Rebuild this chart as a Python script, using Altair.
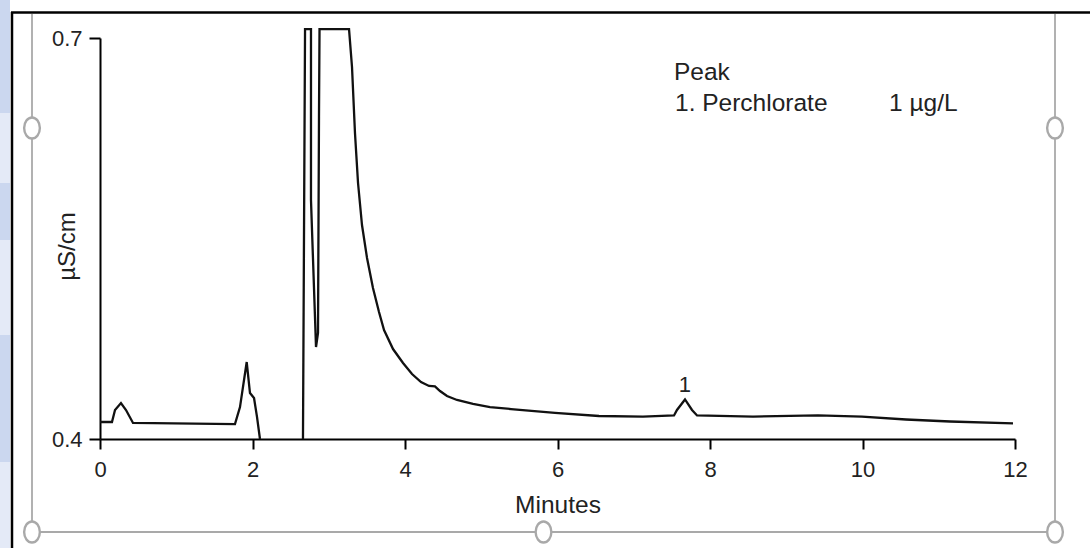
import altair as alt
import pandas as pd

# ---- data (minutes, µS/cm) ----
# trace before the off-scale-low gap
minutes_a = [0.0, 0.157, 0.197, 0.275, 0.341, 0.433, 1.770, 1.836, 1.924, 1.967, 2.020, 2.059, 2.098]
values_a = [0.4127, 0.4127, 0.4217, 0.4269, 0.4217, 0.4120, 0.4112, 0.4239, 0.4576, 0.4344, 0.4307, 0.4165, 0.4000]

# trace after the gap (water dip / off-scale peak, tail, perchlorate peak)
minutes_b = [2.662, 2.689, 2.767, 2.767, 2.833, 2.859, 2.872, 2.879,
             3.266, 3.305, 3.344, 3.384, 3.436, 3.502, 3.580, 3.659, 3.725, 3.843,
             3.974, 4.092, 4.210, 4.315, 4.393, 4.459, 4.551, 4.682, 4.892, 5.115,
             5.390, 5.967, 6.544, 7.121, 7.528, 7.567, 7.672, 7.764, 7.830, 8.564,
             9.416, 9.993, 10.570, 11.148, 11.974]
values_b = [0.4000, 0.7067, 0.7067, 0.5788, 0.4688, 0.4793, 0.6409, 0.7067,
            0.7067, 0.6783, 0.6289, 0.5915, 0.5601, 0.5354, 0.5130, 0.4950, 0.4815, 0.4673,
            0.4569, 0.4486, 0.4426, 0.4397, 0.4393, 0.4359, 0.4322, 0.4292, 0.4262, 0.4239,
            0.4224, 0.4195, 0.4172, 0.4167, 0.4176, 0.4217, 0.4296, 0.4217, 0.4176, 0.4168,
            0.4177, 0.4168, 0.4146, 0.4131, 0.4117]

peak_times = [7.672]
peak_values = [0.4296]
peak_labels = ["1"]

x_ticks = [0, 2, 4, 6, 8, 10, 12]
y_ticks = [0.4, 0.7]

legend_lines = ["Peak", "1. Perchlorate", "1 µg/L"]

# ---- tables ----
trace = pd.DataFrame({
    "t": minutes_a + minutes_b,
    "v": values_a + values_b,
    "seg": ["a"] * len(minutes_a) + ["b"] * len(minutes_b),
    "idx": list(range(len(minutes_a) + len(minutes_b))),
})
peaks = pd.DataFrame({"t": peak_times, "v": peak_values, "label": peak_labels})
one = pd.DataFrame({"k": [0]})

FONT = "Liberation Sans"
TXT = "#222222"
GREY = "#a9a9a9"

xscale = alt.Scale(domain=[0, 12], nice=False)
yscale = alt.Scale(domain=[0.4, 0.7], nice=False, zero=False)

line = alt.Chart(trace).mark_line(color="#111111", strokeWidth=2.3, clip=False).encode(
    x=alt.X("t:Q", scale=xscale, axis=alt.Axis(
        values=x_ticks, format="d", title="Minutes", grid=False,
        titleFont=FONT, titleFontSize=24.5, titleFontWeight="normal", titleColor=TXT,
        titleBaseline="alphabetic", titleY=73,
        labelFont=FONT, labelFontSize=22, labelColor=TXT, labelPadding=10,
        labelFlush=False, labelOverlap=False,
        tickSize=10, tickWidth=2, tickColor="black",
        domainColor="black", domainWidth=2)),
    y=alt.Y("v:Q", scale=yscale, axis=alt.Axis(
        values=y_ticks, format=".1f", title="µS/cm", grid=False,
        titleFont=FONT, titleFontSize=24, titleFontWeight="normal", titleColor=TXT,
        titleAngle=270, titleX=-26, titleY=208, titleBaseline="alphabetic", titleAlign="center",
        labelFont=FONT, labelFontSize=22, labelColor=TXT, labelPadding=7,
        tickSize=11, tickWidth=2, tickColor="black",
        domainColor="black", domainWidth=2)),
    detail="seg:N",
    order="idx:Q",
)

peak_text = alt.Chart(peaks).mark_text(
    font=FONT, fontSize=22, color=TXT, baseline="alphabetic", align="center", dy=-7
).encode(x=alt.X("t:Q", scale=xscale), y=alt.Y("v:Q", scale=yscale), text="label:N")

layers = [line, peak_text]

# legend text (top right)
legend_pos = [(574, 42), (575, 73), (789, 73)]
for txt, (px, py) in zip(legend_lines, legend_pos):
    layers.append(alt.Chart(one).mark_text(
        font=FONT, fontSize=24.5, color=TXT, align="left", baseline="alphabetic", text=txt
    ).encode(x=alt.value(px), y=alt.value(py)))

# ---- screenshot decorations (page strip, frame, selection box) ----
bands = [(-38, 75, "#cbd7ef"), (75, 145, "#e4eaf7"), (145, 202, "#cbd7ef"),
         (202, 297, "#e4eaf7"), (297, 424, "#cbd7ef"), (424, 510, "#e4eaf7")]
for y0, y1, c in bands:
    layers.append(alt.Chart(one).mark_rect(color=c).encode(
        x=alt.value(-100), x2=alt.value(-90), y=alt.value(y0), y2=alt.value(y1)))

# black frame
layers.append(alt.Chart(one).mark_rule(color="black", strokeWidth=2.5).encode(
    x=alt.value(-89), x2=alt.value(990), y=alt.value(-25.5)))
layers.append(alt.Chart(one).mark_rule(color="black", strokeWidth=2.5).encode(
    x=alt.value(-88), y=alt.value(-26), y2=alt.value(510)))

# grey selection box
layers.append(alt.Chart(one).mark_rule(color=GREY, strokeWidth=1.8).encode(
    x=alt.value(-68), y=alt.value(-24), y2=alt.value(494)))
layers.append(alt.Chart(one).mark_rule(color=GREY, strokeWidth=1.8).encode(
    x=alt.value(955), y=alt.value(-24), y2=alt.value(494)))
layers.append(alt.Chart(one).mark_rule(color=GREY, strokeWidth=1.8).encode(
    x=alt.value(-68), x2=alt.value(955), y=alt.value(494)))

ellipse = "M 0 -1 A 0.75 1 0 1 1 0 1 A 0.75 1 0 1 1 0 -1 Z"
for hx, hy in [(-68, 90), (-68, 494), (443.5, 494), (955, 494), (955, 90)]:
    layers.append(alt.Chart(one).mark_point(
        shape=ellipse, size=440, filled=True, fill="white", stroke=GREY, strokeWidth=2.4, opacity=1
    ).encode(x=alt.value(hx), y=alt.value(hy)))

chart = alt.layer(*layers).properties(
    width=915, height=401,
    padding={"left": 100, "top": 38, "right": 75, "bottom": 109},
    autosize=alt.AutoSizeParams(type="none"),
    background="white",
).configure_view(strokeWidth=0)

chart.save("out.html", embed_options={"renderer": "svg", "actions": False})
